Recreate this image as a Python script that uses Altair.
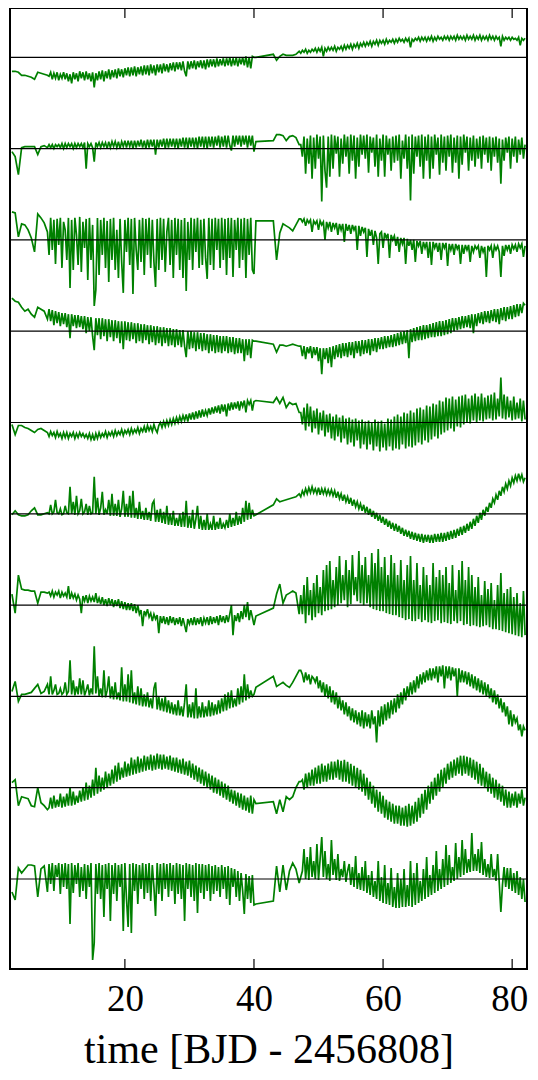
import altair as alt
import pandas as pd

# ---- time grid [BJD - 2456808] ----
TIME = [
    # early sparse part
    2.5, 3.0, 3.5, 4.0, 4.5, 5.0, 5.5, 6.0, 6.5, 7.0, 7.5, 8.0,
    # first dense stretch
    8.25, 8.5, 8.75, 9.0, 9.25, 9.5, 9.75, 10.0, 10.25, 10.5,
    10.75, 11.0, 11.25, 11.5, 11.75, 12.0, 12.25, 12.5, 12.75, 13.0,
    13.25, 13.5, 13.75, 14.0, 14.25, 14.5, 14.75, 15.0, 15.25, 15.5,
    15.75, 16.0, 16.25, 16.5, 16.75, 17.0, 17.25, 17.5, 17.75, 18.0,
    18.25, 18.5, 18.75, 19.0, 19.25, 19.5, 19.75, 20.0, 20.25, 20.5,
    20.75, 21.0, 21.25, 21.5, 21.75, 22.0, 22.25, 22.5, 22.75, 23.0,
    23.25, 23.5, 23.75, 24.0, 24.25, 24.5, 24.75, 25.0, 25.25, 25.5,
    25.75, 26.0, 26.25, 26.5, 26.75, 27.0, 27.25, 27.5, 27.75, 28.0,
    28.25, 28.5, 28.75, 29.0, 29.25, 29.5, 29.75, 30.0, 30.25, 30.5,
    30.75, 31.0, 31.25, 31.5, 31.75, 32.0, 32.25, 32.5, 32.75, 33.0,
    33.25, 33.5, 33.75, 34.0, 34.25, 34.5, 34.75, 35.0, 35.25, 35.5,
    35.75, 36.0, 36.25, 36.5, 36.75, 37.0, 37.25, 37.5, 37.75, 38.0,
    38.25, 38.5, 38.75, 39.0, 39.25, 39.5, 39.75, 40.0,
    # gap / sparse part
    40.3, 43.0, 43.5, 44.0, 44.5, 45.0, 45.5, 46.0, 46.5, 47.0,
    # second dense stretch
    47.25, 47.5, 47.75, 48.0, 48.25, 48.5, 48.75, 49.0, 49.25, 49.5,
    49.75, 50.0, 50.25, 50.5, 50.75, 51.0, 51.25, 51.5, 51.75, 52.0,
    52.25, 52.5, 52.75, 53.0, 53.25, 53.5, 53.75, 54.0, 54.25, 54.5,
    54.75, 55.0, 55.25, 55.5, 55.75, 56.0, 56.25, 56.5, 56.75, 57.0,
    57.25, 57.5, 57.75, 58.0, 58.25, 58.5, 58.75, 59.0, 59.25, 59.5,
    59.75, 60.0, 60.25, 60.5, 60.75, 61.0, 61.25, 61.5, 61.75, 62.0,
    62.25, 62.5, 62.75, 63.0, 63.25, 63.5, 63.75, 64.0, 64.25, 64.5,
    64.75, 65.0, 65.25, 65.5, 65.75, 66.0, 66.25, 66.5, 66.75, 67.0,
    67.25, 67.5, 67.75, 68.0, 68.25, 68.5, 68.75, 69.0, 69.25, 69.5,
    69.75, 70.0, 70.25, 70.5, 70.75, 71.0, 71.25, 71.5, 71.75, 72.0,
    72.25, 72.5, 72.75, 73.0, 73.25, 73.5, 73.75, 74.0, 74.25, 74.5,
    74.75, 75.0, 75.25, 75.5, 75.75, 76.0, 76.25, 76.5, 76.75, 77.0,
    77.25, 77.5, 77.75, 78.0, 78.25, 78.5, 78.75, 79.0, 79.25, 79.5,
    79.75, 80.0, 80.25, 80.5, 80.75, 81.0, 81.25, 81.5, 81.75, 82.0,
]

# ---- relative flux of each light curve (arbitrary units, up = brighter) ----
S1 = [
    -14, -14, -15, -18, -18, -19, -20, -22, -15, -16, -17, -18,
    -19, -15, -22, -16, -21, -15, -23, -17, -21, -15,
    -22, -16, -24, -17, -26, -15, -22, -16, -24, -14,
    -21, -15, -23, -14, -22, -16, -24, -15, -30, -16,
    -23, -14, -22, -13, -24, -14, -21, -12, -22, -13,
    -20, -12, -21, -11, -19, -12, -20, -11, -18, -10,
    -19, -10, -18, -9, -19, -10, -17, -9, -18, -8,
    -17, -8, -18, -7, -16, -8, -18, -7, -15, -7,
    -16, -6, -14, -7, -15, -6, -13, -5, -14, -5,
    -12, -5, -13, -4, -14, -19, -4, -12, -4, -11,
    -3, -12, -4, -10, -3, -11, -3, -12, -2, -10,
    -2, -9, -2, -10, -1, -9, -2, -8, -1, -9,
    -1, -8, 0, -9, -1, -8, 0, -9, -1, -7,
    0, -8, 1, -10, 0, -11, 1, 0,
    0, 3, -3, 1, 3, 2, 2, 2, 3, 6,
    4, 7, 5, 8, 4, 7, 5, 8, 6, 9,
    5, 9, 6, 10, 1, 9, 6, 10, 7, 10,
    7, 11, 6, 10, 8, 11, 7, 12, 8, 12,
    9, 13, 8, 13, 10, 14, 9, 14, 11, 15,
    11, 15, 12, 16, 11, 16, 13, 17, 12, 17,
    14, 17, 13, 18, 14, 17, 15, 18, 14, 18,
    15, 19, 16, 18, 15, 19, 16, 19, 10, 18,
    16, 19, 17, 20, 16, 20, 17, 20, 16, 20,
    17, 21, 16, 20, 17, 21, 18, 20, 17, 21,
    18, 21, 17, 21, 18, 21, 17, 22, 18, 21,
    18, 21, 17, 22, 18, 21, 18, 22, 17, 21,
    18, 22, 17, 21, 18, 21, 17, 22, 18, 21,
    17, 21, 18, 20, 11, 21, 17, 20, 18, 20,
    17, 20, 18, 19, 17, 20, 12, 19, 17, 19,
]
S2 = [
    -3, -8, -26, 1, 2, 2, 2, 2, -6, 2, 3, 1,
    4, 1, 4, 0, 4, 2, 4, 1, 5, 0,
    5, 1, 5, 2, 5, 0, 5, 1, 5, 2,
    5, 1, 6, -20, 5, 2, 5, 1, -13, 6,
    2, 6, 1, 6, 2, 6, 0, 7, 1, 7,
    2, 7, 1, 7, 0, 7, 2, 8, 1, 8,
    2, 8, 0, 8, 1, 8, 2, 9, 1, 8,
    0, 9, 1, 9, 2, 9, -6, 9, 1, 9,
    2, 10, 0, 10, 1, 10, 2, 10, 1, 10,
    0, 10, 2, 11, 1, 11, 0, 11, 2, 11,
    1, 11, 0, 12, 2, 12, 1, 12, 0, 12,
    2, 12, 1, 12, 3, 13, 1, 12, 2, 13,
    1, 13, 3, -2, 13, 2, 13, 4, 13, 2,
    13, 4, 13, 1, 13, 3, 13, -3,
    7, 8, 14, 14, 13, 8, 12, 13, 11, 4,
    4, -8, 12, -25, 10, -15, 13, -30, 11, -20,
    14, -10, 12, -53, 13, -22, -39, 12, -28, 14,
    -20, 13, -5, 12, -28, 10, -15, 14, -8, 12,
    -25, 14, -12, 13, -30, 11, -18, 14, -6, 13,
    -10, 14, -24, 12, -4, 11, -18, 14, -28, 10,
    -12, 14, -28, 13, -6, 10, -22, 12, -14, 13,
    -12, 14, -30, 8, -10, 14, -20, 12, -52, 14,
    -25, 12, -8, 13, -18, 14, -30, 12, -12, 14,
    -30, 12, -20, 14, -6, 11, -26, 14, -14, 12,
    -22, 13, -8, 14, -24, 11, -14, 13, -30, 12,
    -16, 14, -4, 12, -22, 11, -12, 13, -18, 10,
    -10, 12, -20, 13, -6, 11, -14, 12, -22, 11,
    -8, 12, -14, 10, -35, 9, -12, 11, -4, 12,
    -20, 10, -8, 12, -14, 9, -6, 11, -10, 4,
]
S3 = [
    28, 27, 3, 16, 15, 10, 2, -12, 26, 22, 17, 8,
    -15, 22, -10, 20, -24, 21, -5, 22, -28, 18,
    10, -20, 22, -48, 20, -30, 22, 5, -25, 23,
    -32, 18, -8, 21, -40, 22, -20, 15, -66, -50,
    22, -35, 20, -15, 22, -28, 19, -42, 21, -20,
    22, -30, 10, -38, 21, -22, -53, 20, -12, 22,
    -25, 21, -54, 22, -10, -30, 20, -22, 22, -35,
    21, -15, 22, -28, 20, -22, -47, 21, -30, 22,
    -20, 21, -32, 8, 22, -25, 20, -38, 22, -15,
    21, -30, 20, -38, 22, -51, 18, -20, 22, -30,
    21, -12, 22, -28, 20, -25, 21, -18, -39, 22,
    -25, 21, -30, 22, -10, 21, -28, 22, -20, 21,
    -35, 22, -18, 22, -37, 20, -10, 22, -28, 21,
    -20, 22, -38, 21, -15, 22, -30, -34,
    19, 19, -20, 7, 16, 14, 12, 9, 15, 21,
    21, 18, 21, 14, 20, 17, 20, 8, 19, 16,
    19, 10, 19, 15, 18, 0, 18, 12, 18, 8,
    17, 12, 17, 5, 16, 10, 16, -2, 16, 9,
    15, 6, 15, 10, 14, -10, 14, 4, 13, 8,
    12, -17, 11, 4, 10, -5, 9, 2, -24, 6,
    8, -8, 7, 2, 6, -18, 5, 0, 4, -6,
    3, -12, 2, -4, 2, -24, 1, -6, 0, -10,
    0, -22, -1, -6, -1, -14, -2, -8, -2, -18,
    -2, -25, -2, -8, -3, -12, -3, -20, -3, -8,
    -3, -26, -4, -10, -4, -15, -4, -9, -5, -24,
    -5, -14, -5, -10, -5, -22, -6, -12, -6, -9,
    -6, -18, -6, -12, -7, -37, -6, -10, -6, -18,
    -6, -10, -6, -12, -37, -6, -16, -5, -10, -5,
    -14, -5, -9, -5, -12, -4, -8, -4, -17, -6,
]
S4 = [
    33, 30, 29, 24, 20, 22, 17, 14, 24, 22, 20, 12,
    22, 10, 21, 6, 20, 8, 19, 5, 18, 7,
    18, 4, 17, -7, 17, 5, 16, 3, 16, 4,
    15, 2, 15, -2, 14, 0, 14, -5, -19, 13,
    -4, 13, -8, 13, -5, 12, -10, 12, -6, 11,
    -10, 11, -7, 10, -12, 10, -18, 10, -9, 9,
    -10, 9, -8, 8, -12, 8, -10, 7, -12, 7,
    -9, 6, -13, 6, -11, 5, -14, 5, -12, 4,
    -15, 4, -12, 3, -15, 3, -14, 2, -16, 2,
    -14, 1, -16, 1, -15, -26, 0, -18, 0, -17,
    -1, -20, -1, -18, -2, -20, -2, -19, -3, -22,
    -3, -20, -4, -22, -4, -21, -5, -22, -5, -20,
    -5, -22, -6, -21, -6, -23, -7, -22, -7, -22,
    -8, -30, -8, -24, -8, -27, -9, -10,
    -10, -13, -21, -14, -14, -15, -14, -13, -14, -15,
    -15, -25, -15, -28, -16, -22, -15, -27, -16, -24,
    -16, -30, -17, -43, -17, -28, -17, -32, -16, -36,
    -15, -28, -14, -26, -13, -27, -12, -25, -12, -26,
    -11, -24, -11, -27, -10, -22, -10, -25, -9, -23,
    -9, -22, -8, -24, -8, -20, -7, -21, -7, -18,
    -6, -18, -5, -17, -5, -16, -4, -16, -3, -15,
    -2, -14, -1, -13, 0, -12, 1, -27, 2, -11,
    3, -10, 4, -9, 5, -9, 6, -8, 6, -7,
    7, -6, 8, -6, 9, -5, 10, -5, 10, -4,
    11, -3, 12, -2, 13, 0, 13, 1, 14, 2,
    15, 3, 15, 4, 16, 3, 17, -2, 17, 5,
    18, 8, 19, 7, 20, 9, 20, 8, 21, 10,
    22, 9, 22, 7, 23, 11, 24, 10, 24, 12,
    25, 12, 26, 14, 27, 15, 27, 18, 28, 26,
]
S5 = [
    -2, -12, -3, -3, -5, -6, -8, -10, -7, -6, -8, -10,
    -14, -9, -13, -10, -15, -9, -14, -11, -16, -10,
    -15, -10, -16, -11, -14, -10, -16, -11, -15, -10,
    -14, -11, -15, -12, -16, -11, -17, -12, -18, -11,
    -16, -10, -15, -11, -14, -9, -15, -10, -13, -9,
    -14, -8, -13, -9, -12, -7, -13, -8, -11, -7,
    -12, -6, -11, -7, -10, -5, -11, -6, -9, -4,
    -10, -3, -8, -4, -9, -2, -7, -10, -3, 0,
    -5, 1, -4, 2, -3, 3, -2, 4, -1, 5,
    0, 6, 1, 7, 2, 8, 1, 9, 3, 10,
    3, 11, 4, 12, 5, 13, 6, 12, 7, 14,
    8, 15, 9, 16, 10, 17, 9, 18, 11, 18,
    6, 19, 12, 20, 13, 20, 14, 21, 12, 21,
    16, 22, 10, 22, 18, 22, 12, 21,
    22, 20, 25, 19, 25, 15, 20, 18, 19, 10,
    10, -2, 15, -8, 19, -4, 16, -10, 12, -6,
    14, -12, 10, -8, 12, -14, 8, -10, 9, -16,
    6, -18, 8, -14, 5, -20, 7, -16, 4, -22,
    5, -20, 3, -24, 4, -18, 2, -26, 3, -22,
    1, -27, 2, -22, 0, -28, 3, -24, 1, -29,
    2, -25, -1, -28, 4, -24, 3, -28, 6, -26,
    8, -27, 6, -22, 10, -26, 9, -24, 12, -25,
    10, -23, 14, -20, 15, -22, 13, -18, 17, -20,
    16, -17, 19, -14, 18, -16, 22, -12, 21, -10,
    25, -8, 24, -6, 26, -9, 23, -4, 26, -5,
    27, -2, 28, 0, 24, -1, 27, 2, 29, 0,
    26, 2, 29, 1, 25, 3, 27, 4, 28, 2,
    30, 3, 24, 6, 45, 4, 28, 3, 26, 5,
    22, 2, 26, 3, 20, 4, 24, 1, 22, 3,
]
S6 = [
    -1, 3, -1, -2, -2, -1, 3, 6, -1, -1, 0, 1,
    0, 9, 0, 2, 14, 1, 0, 5, -1, 0,
    8, 1, 0, 27, 0, 12, -1, 18, 0, 3,
    15, 0, 2, 10, -1, 8, 0, 1, 37, 0,
    16, -1, 6, 22, -1, 4, 0, 14, -2, 20,
    -2, 10, -2, 14, -3, 5, 23, -3, 10, -3,
    18, -4, 23, -4, 6, -5, 12, -5, 3, -6,
    6, -6, 2, -7, 10, 13, -8, 4, -8, 5,
    -9, 2, -10, 8, -11, 0, -11, 3, -12, -4,
    -12, 0, -13, 2, -13, 13, -14, -2, -14, 4,
    -15, -5, 8, -15, -2, -16, -6, -16, 0, -16,
    -10, -16, -2, -16, -8, -15, -4, -15, -10, -14,
    -6, -14, 0, -13, -4, -12, 2, -11, -2, -10,
    6, -8, 13, -6, 11, -5, 4, -2,
    -1, 9, 15, 12, 13, 14, 15, 16, 17, 20,
    17, 23, 19, 25, 20, 26, 21, 27, 21, 25,
    20, 26, 19, 25, 20, 25, 19, 24, 19, 24,
    18, 23, 16, 22, 15, 20, 13, 19, 12, 17,
    10, 16, 8, 14, 7, 12, 5, 10, 3, 9,
    1, 7, -1, 5, -3, 3, -5, 1, -7, -1,
    -9, -3, -11, -5, -13, -7, -15, -9, -17, -10,
    -18, -12, -20, -14, -22, -16, -23, -17, -25, -18,
    -26, -19, -27, -20, -28, -20, -29, -21, -28, -21,
    -29, -21, -29, -20, -28, -20, -28, -19, -28, -19,
    -27, -18, -26, -17, -25, -16, -24, -15, -22, -13,
    -21, -12, -19, -10, -17, -8, -15, -5, -12, -2,
    -9, 1, -6, 4, -2, 7, 2, 11, 6, 15,
    11, 19, 14, 23, 18, 27, 22, 30, 25, 33,
    28, 36, 31, 38, 33, 40, 34, 39, 32, 36,
]
S7 = [
    11, -8, 30, 16, 15, 15, 14, 14, 2, 13, 13, 12,
    13, 9, 14, 8, 13, 10, 14, 7, 13, 9,
    12, 8, 19, 6, 12, 7, 11, 5, 10, 6,
    -8, 9, 4, 10, 2, 9, 4, 8, 3, 12,
    2, 7, 1, 8, 0, 6, -1, 7, 0, 6,
    -2, 5, -1, 6, -3, 4, -4, 3, -5, 2,
    -5, 2, -6, 1, -8, 0, -9, -5, -21, -6,
    -10, -4, -12, -8, -16, -9, -14, -10, -28, -11,
    -18, -11, -19, -12, -20, -11, -18, -12, -20, -13,
    -19, -12, -21, -13, -20, -27, -14, -19, -13, -20,
    -12, -20, -13, -19, -12, -21, -13, -18, -12, -20,
    -11, -19, -12, -18, -11, -20, -10, -17, -11, -18,
    -10, -17, -9, 0, -30, -10, -16, -8, -17, -6,
    -14, 0, -12, 3, -15, -5, -12, -20,
    -11, -3, 11, 21, 2, 10, 12, 14, 12, -9,
    10, -9, 20, -18, 28, -10, 15, -15, 22, -12,
    30, -8, 18, -10, 35, -6, 40, -5, 44, -4,
    25, -2, 38, 0, 49, 2, 30, 5, 45, -2,
    35, 1, 50, 10, 28, 4, 54, 2, 40, 0,
    48, 2, 30, -2, 52, -4, 42, -5, 56, -6,
    38, -6, 48, -8, 30, -9, 50, -10, 42, -10,
    30, -12, 45, -13, 25, -15, 40, -14, 49, -16,
    25, -16, 42, -14, 20, -17, 38, -15, 30, -17,
    20, -18, 42, -16, 28, -15, 35, -18, 30, -17,
    38, -18, 22, -19, 40, -16, 15, -18, 35, -16,
    44, -20, 25, -19, 38, -21, 30, -20, 18, -21,
    28, -22, 10, -21, 24, -20, 16, -22, 22, -24,
    5, -24, 20, -25, 32, -26, 12, -27, 16, -28,
    18, -29, 8, -30, 12, -31, 2, -32, 14, -30,
]
S8 = [
    5, 15, -5, 2, 2, 3, 4, 8, 12, 3, 5, 12,
    2, 20, 2, 6, 12, 2, 3, 8, 2, 4,
    14, 2, 5, 36, 2, 16, 1, 10, 2, 18,
    2, 16, 1, 6, 12, 1, 8, 2, 50, 3,
    20, 0, 8, -1, 26, -1, 6, 20, -2, 10,
    -3, 14, -3, 4, -4, 29, -5, 12, -5, 22,
    -6, 26, -7, 4, -8, 10, -9, 8, -10, 2,
    -10, 4, -11, -2, -12, 8, 14, -13, 0, -14,
    -2, -15, 0, -16, -4, -17, -6, -18, -8, -19,
    -4, -19, -10, -20, -6, 12, -21, -8, -21, -6,
    -22, 8, -22, -10, -21, -6, -21, -10, -20, -4,
    -20, -6, -19, -8, -18, -4, -17, -2, -15, 2,
    -14, 4, -12, 6, -11, -2, -10, 8, -8, 10,
    -6, 22, -4, 12, -2, 6, 0, 2,
    9, 20, 10, 12, 14, 11, 9, 14, 20, 26,
    26, 22, 14, 24, 16, 22, 12, 20, 18, 14,
    20, 8, 16, 4, 14, 0, 12, -2, 10, -6,
    6, -8, 4, -12, 0, -14, -4, -18, -6, -20,
    -10, -24, -12, -26, -14, -28, -16, -30, -14, -32,
    -16, -30, -18, -32, -14, -28, -20, -46, -14, -30,
    -10, -28, -8, -24, -6, -22, -4, -18, -2, -16,
    2, -12, 4, -8, 8, -4, 10, 0, 14, 2,
    16, 4, 20, 8, 22, 12, 24, 14, 26, 16,
    28, 16, 28, 18, 30, 14, 30, 20, 31, 8,
    30, 18, 30, 16, 29, 20, 28, 0, 28, 14,
    26, 14, 25, 12, 24, 10, 22, 8, 20, 6,
    18, 4, 16, 2, 14, 0, 12, -2, 8, -6,
    6, -8, 2, -12, -2, -16, -6, -20, -10, -28,
    -14, -30, -18, -26, -22, -34, -28, -40, -30, -34,
]
S9 = [
    5, 8, -18, -9, -10, -11, -18, -19, 0, -15, -18, -22,
    -20, -10, -21, -8, -20, -12, -19, -6, -20, -9,
    -19, -6, -18, 0, -18, -4, -17, -8, -15, -3,
    -14, 0, -13, 5, -12, 2, -10, 8, -8, 20,
    -6, 12, -4, 10, -2, 16, 0, 14, 2, 18,
    4, 22, 6, 25, 8, 20, 10, 26, 11, 24,
    12, 30, 13, 28, 14, 31, 15, 29, 16, 32,
    17, 31, 18, 33, 17, 32, 18, 34, 19, 33,
    18, 33, 19, 31, 18, 32, 17, 30, 16, 30,
    15, 28, 14, 29, 13, 26, 12, 27, 10, 24,
    8, 22, 6, 20, 4, 18, 2, 16, 0, 14,
    -2, 12, -5, 10, -6, 8, -8, 6, -10, 4,
    -12, 2, -14, -2, -16, -3, -18, -5, -20, -6,
    -22, -8, -23, -10, -25, -8, -26, -12,
    -16, -14, -26, -12, -24, -9, -12, -9, 0, 6,
    6, 8, -2, 14, 0, 15, 2, 18, 2, 20,
    4, 22, 4, 24, 6, 22, 6, 24, 8, 26,
    8, 26, 10, 28, 8, 27, 6, 28, 6, 26,
    4, 24, 2, 22, 0, 20, -2, 18, -4, 14,
    -8, 10, -12, 6, -16, 2, -20, -2, -24, -4,
    -26, -8, -30, -12, -32, -14, -34, -16, -36, -18,
    -36, -18, -38, -20, -38, -18, -39, -16, -38, -18,
    -36, -14, -34, -10, -30, -6, -26, -2, -22, 2,
    -16, 6, -12, 10, -8, 14, -4, 18, 0, 20,
    4, 24, 8, 26, 10, 28, 12, 30, 14, 32,
    12, 32, 14, 31, 12, 30, 10, 28, 8, 26,
    4, 24, 2, 20, 0, 16, -4, 14, -6, 10,
    -10, 8, -12, 4, -14, 2, -18, -2, -20, -4,
    -20, -6, -18, -4, -20, -6, -16, -2, -18, -10,
]
S10 = [
    -13, -21, 11, 6, 10, 14, 14, 13, -18, 10, 13, -13,
    15, -5, 16, -12, 14, 2, 16, -15, 15, -8,
    16, -10, 15, -45, 16, -14, 14, -5, 16, -18,
    12, -12, 15, -20, 14, -8, 16, -81, -64, 15,
    -15, 16, -20, 14, -38, 15, -10, 16, -42, 14,
    -15, 16, -22, 14, -8, 15, -52, 16, -20, -48,
    15, -54, 16, -12, 15, -25, 14, -10, 16, -20,
    15, -14, 16, -22, 14, -8, -37, 16, -15, 15,
    -22, 16, -10, 15, -18, 16, -12, 14, -25, 16,
    -15, 15, -20, 14, -42, 16, -10, 15, -18, 14,
    -22, 16, -34, 15, -14, 15, -20, 14, -12, 15,
    -22, 13, -15, 14, -12, 12, -18, 14, -10, 12,
    -20, 13, -26, 11, -8, 10, -18, 8, -22, 6,
    -12, -35, 5, -20, 3, -24, 4, -26,
    -25, -22, 13, -13, 14, -11, 8, 16, 10, -4,
    2, 8, 30, 0, 22, -1, 32, 2, 18, 0,
    35, -1, 20, 42, 2, 28, 0, 15, -2, 39,
    4, 20, -1, 25, -2, 10, 2, 18, -3, 8,
    15, -6, 12, -8, 23, -10, 6, -11, 12, -12,
    18, -14, 4, -16, 8, -18, -2, -20, 18, -22,
    2, -24, 14, -25, -4, -26, 11, -28, -8, -29,
    6, -29, 0, -28, 10, -28, -6, -27, 18, -28,
    6, -26, 16, -24, -2, -22, 10, -20, 22, -18,
    4, -16, 14, -14, 28, -12, 10, -10, 20, -8,
    34, -6, 24, -4, 12, -2, 36, 0, 22, 2,
    39, 4, 30, 6, 20, 7, 46, 8, 25, 8,
    30, 6, 37, 4, 20, 2, 15, 1, 25, 2,
    10, -2, 25, -4, -33, -6, 12, -8, 11, -10,
    11, -12, 6, -14, 8, -16, 2, -20, 0, -23,
]

SERIES = [S1, S2, S3, S4, S5, S6, S7, S8, S9, S10]
SPACING = 91.3          # vertical offset between stacked curves
TICKS = [20, 40, 60, 80]
X_DOMAIN = [2.2, 82.3]
Y_DOMAIN = [-911.7, 49.3]

rows = []
for i, vals in enumerate(SERIES):
    if len(vals) != len(TIME):
        raise ValueError(f"series {i + 1}: {len(vals)} values vs {len(TIME)} times")
    for t, v in zip(TIME, vals):
        rows.append({"t": t, "flux": v - i * SPACING, "series": i})
df = pd.DataFrame(rows)
base_df = pd.DataFrame({"series": list(range(len(SERIES))),
                        "offset": [-i * SPACING for i in range(len(SERIES))]})
tick_df = pd.DataFrame({"t": TICKS})

W, H = 517, 961
FONT = "Liberation Serif"

xscale = alt.Scale(domain=X_DOMAIN, nice=False, zero=False)
yscale = alt.Scale(domain=Y_DOMAIN, nice=False, zero=False)

XAXIS = alt.Axis(
    values=TICKS, title="time [BJD - 2456808]", ticks=False, tickSize=0,
    domain=False, grid=False,
    labelFont=FONT, labelFontSize=37, labelColor="black",
    labelBaseline="alphabetic", labelPadding=41, labelFlush=False,
    labelOverlap=False,
    labelOffset={"condition": {"test": "datum.value >= 80", "value": -3}, "value": 0},
    titleFont=FONT, titleFontSize=42, titleFontWeight="normal",
    titleColor="black", titleBaseline="alphabetic", titleY=93,
)

lines = alt.Chart(df).mark_line(color="#008000", strokeWidth=1.7, clip=True).encode(
    x=alt.X("t:Q", scale=xscale, axis=XAXIS),
    y=alt.Y("flux:Q", scale=yscale, axis=None),
    detail="series:N",
)

baselines = alt.Chart(base_df).mark_rule(color="black", strokeWidth=1.2).encode(
    y=alt.Y("offset:Q", scale=yscale, axis=None),
)

top_ticks = alt.Chart(tick_df).mark_rule(color="black", strokeWidth=1.2).encode(
    x=alt.X("t:Q", scale=xscale, axis=XAXIS),
    y=alt.value(0), y2=alt.value(10),
)
bottom_ticks = alt.Chart(tick_df).mark_rule(color="black", strokeWidth=1.2).encode(
    x=alt.X("t:Q", scale=xscale, axis=XAXIS),
    y=alt.value(H), y2=alt.value(H - 10),
)

chart = alt.layer(lines, baselines, top_ticks, bottom_ticks).properties(
    width=W, height=H,
    padding={"left": 2, "top": 0, "right": 3, "bottom": 103},
    autosize=alt.AutoSizeParams(type="none"),
).configure_view(stroke="black", strokeWidth=2)

chart.save("out.html", embed_options={"renderer": "svg", "actions": False})
